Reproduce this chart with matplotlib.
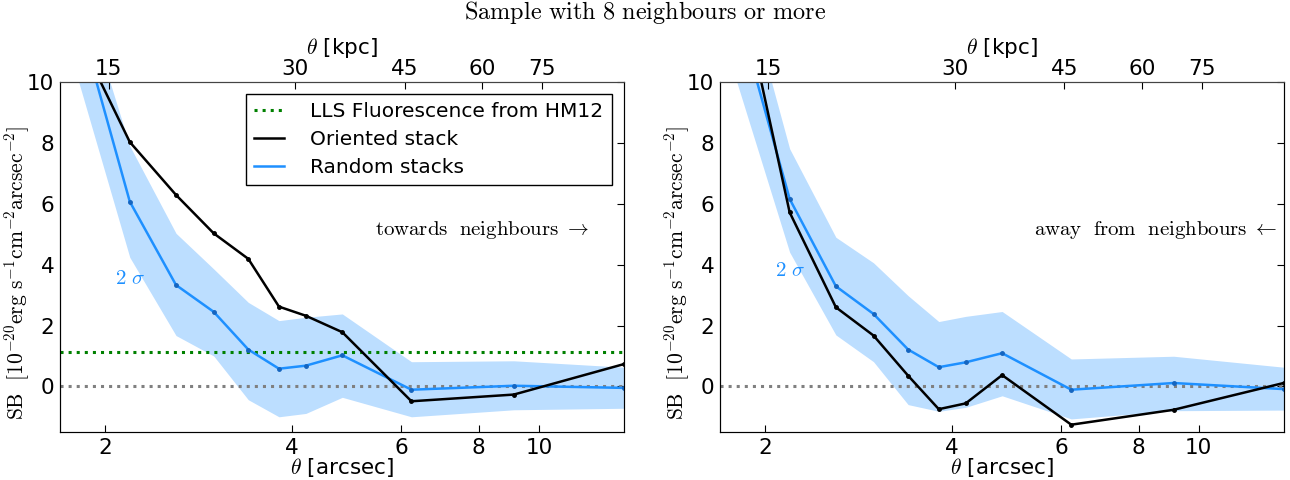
import numpy as np
import matplotlib
matplotlib.use("Agg")
import matplotlib.pyplot as plt
from matplotlib.ticker import FixedLocator, NullLocator, FixedFormatter

plt.rcParams["font.family"] = "DejaVu Sans"
plt.rcParams["mathtext.fontset"] = "cm"
plt.rcParams["font.size"] = 15

# angular distance of the radial bins [arcsec]
theta = [1.80, 2.19, 2.60, 2.99, 3.40, 3.81, 4.21, 4.82, 6.23, 9.11, 13.7]

# towards neighbours
oriented_to = [11.6, 8.03, 6.29, 5.03, 4.19, 2.62, 2.32, 1.78, -0.49, -0.27, 0.73]
random_to = [12.3, 6.07, 3.33, 2.45, 1.21, 0.58, 0.68, 1.02, -0.11, 0.02, -0.05]
hi_to = [13.5, 7.90, 5.03, 3.86, 2.76, 2.16, 2.27, 2.38, 0.81, 0.84, 0.63]
lo_to = [10.2, 4.24, 1.67, 1.00, -0.44, -1.00, -0.89, -0.36, -1.00, -0.77, -0.72]

# away from neighbours
oriented_aw = [13.7, 5.72, 2.60, 1.67, 0.35, -0.75, -0.56, 0.37, -1.26, -0.77, 0.11]
random_aw = [12.4, 6.16, 3.29, 2.38, 1.21, 0.63, 0.79, 1.09, -0.11, 0.11, -0.09]
hi_aw = [14.2, 7.81, 4.90, 4.06, 2.98, 2.13, 2.30, 2.46, 0.90, 0.99, 0.63]
lo_aw = [10.0, 4.41, 1.69, 0.81, -0.60, -0.82, -0.69, -0.31, -1.07, -0.80, -0.78]

hm12 = 1.14          # LLS fluorescence level
kpc_per_arcsec = 7.41
kpc_ticks = [15, 30, 45, 60, 75]
arcsec_ticks = [2, 4, 6, 8, 10]

blue = "#1e90ff"
band = "#bcdeff"

fig = plt.figure(figsize=(12.9, 4.8), dpi=100)
ax1 = fig.add_axes([0.0465, 0.1, 0.437, 0.729])
ax2 = fig.add_axes([0.558, 0.1, 0.437, 0.729])


def panel(ax, oriented, rand, hi, lo, txt, sig_y, fluo):
    ax.fill_between(theta, lo, hi, color=band, lw=0, zorder=1)
    ax.axhline(0, color="gray", ls=":", lw=2.2, zorder=2)
    if fluo:
        ax.axhline(hm12, color="green", ls=":", lw=2.2, zorder=2,
                   label="LLS Fluorescence from HM12")
    ax.plot(theta, oriented, color="black", lw=1.8, zorder=4,
            label="Oriented stack")
    ax.plot(theta, rand, color=blue, lw=1.8, zorder=3, label="Random stacks")
    # small dots on the bins
    ax.plot(theta, oriented, "o", color="black", ms=2.5, zorder=4)
    ax.plot(theta, rand, "o", color="#1565c0", ms=2.5, zorder=3)
    ax.set_xscale("log")
    ax.set_xlim(1.69, 13.7)
    ax.set_ylim(-1.5, 10)
    ax.xaxis.set_major_locator(FixedLocator(arcsec_ticks))
    ax.xaxis.set_major_formatter(FixedFormatter([str(t) for t in arcsec_ticks]))
    ax.xaxis.set_minor_locator(NullLocator())
    ax.set_yticks([0, 2, 4, 6, 8, 10])
    ax.tick_params(direction="in", length=5, left=False, right=True,
                   top=False, labelsize=15.5, pad=4)
    ax.set_xlabel(r"$\theta$ [arcsec]", fontsize=15.5, labelpad=-1)
    ax.set_ylabel(r"$\mathrm{SB\ \ [10^{-20}erg\ s^{-1}cm^{-2}arcsec^{-2}]}$",
                  fontsize=15.5)
    ax.yaxis.set_label_coords(-0.05, 0.455)
    ax.text(0.558, 0.577, txt, transform=ax.transAxes, fontsize=15,
            va="center", ha="left")
    ax.text(0.098, sig_y, r"$2\ \sigma$", transform=ax.transAxes,
            color=blue, fontsize=15, va="center")
    for side in ("top", "right", "bottom"):
        ax.spines[side].set_color("#444444")

    top = ax.twiny()
    top.set_xscale("log")
    top.set_xlim(ax.get_xlim())
    top.xaxis.set_major_locator(FixedLocator([k / kpc_per_arcsec for k in kpc_ticks]))
    top.xaxis.set_major_formatter(FixedFormatter([str(k) for k in kpc_ticks]))
    top.xaxis.set_minor_locator(NullLocator())
    top.tick_params(direction="in", length=5, labelsize=15.5, pad=2)
    top.set_xlabel(r"$\theta$ [kpc]", fontsize=15.5, labelpad=4)
    top.spines["top"].set_color("#444444")
    return ax


panel(ax1, oriented_to, random_to, hi_to, lo_to,
      r"$\mathrm{towards\ \ neighbours}\ \rightarrow$", 0.44, True)
panel(ax2, oriented_aw, random_aw, hi_aw, lo_aw,
      r"$\mathrm{away\ \ from\ \ neighbours}\ \leftarrow$", 0.463, False)

leg = ax1.legend(loc="upper right", fontsize=14.5, handlelength=1.5,
                 handletextpad=1.3, labelspacing=0.45, fancybox=False,
                 framealpha=1, edgecolor="black", borderaxespad=0.6)
leg.get_frame().set_linewidth(1)

fig.text(0.5, 0.975, r"$\mathrm{Sample\ with\ 8\ neighbours\ or\ more}$",
         ha="center", va="center", fontsize=17.5)

fig.savefig("out.png", dpi=100)
